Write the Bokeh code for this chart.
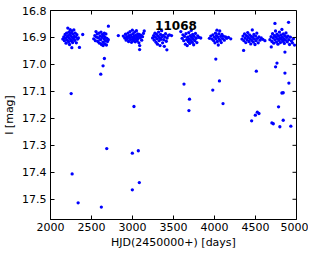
import math
from bokeh.plotting import figure
from bokeh.models import Range1d, FixedTicker, PrintfTickFormatter, Label
from bokeh.embed import file_html
from bokeh.resources import INLINE

star_id = "11068"
x_label = "HJD(2450000+) [days]"
y_label = "I [mag]"
x_ticks = [2000, 2500, 3000, 3500, 4000, 4500, 5000]
y_ticks = [16.8, 16.9, 17.0, 17.1, 17.2, 17.3, 17.4, 17.5]

season1 = [(2150,16.906),(2162,16.898),(2170,16.912),(2178,16.889),(2185,16.903),(2190,16.921),
           (2196,16.884),(2200,16.897),(2205,16.910),(2211,16.865),(2215,16.893),(2220,16.916),
           (2224,16.880),(2228,16.902),(2232,16.926),(2237,16.888),(2240,16.871),(2245,16.908),
           (2249,16.895),(2253,16.882),(2258,16.914),(2262,16.876),(2266,16.900),(2270,16.919),
           (2275,16.887),(2280,16.905),(2285,16.872),(2290,16.896),(2296,16.911),(2302,16.884),
           (2308,16.899),(2315,16.920),(2322,16.890),(2330,16.906),(2340,16.902),(2393,16.889)]
season2 = [(2527,16.905),(2540,16.893),(2548,16.912),(2555,16.878),(2562,16.899),(2570,16.887),
           (2578,16.915),(2585,16.902),(2592,16.884),(2598,16.921),(2604,16.895),(2610,16.908),
           (2616,16.880),(2622,16.926),(2628,16.900),(2633,16.889),(2638,16.917),(2642,16.930),
           (2647,16.893),(2652,16.906),(2656,16.884),(2660,16.923),(2665,16.899),(2670,16.912),
           (2676,16.887),(2682,16.928),(2688,16.903),(2695,16.915),(2705,16.908)]
season3 = [(2827,16.893),(2888,16.895),(2905,16.902),(2915,16.888),(2922,16.910),(2930,16.897),
           (2938,16.905),(2945,16.884),(2952,16.915),(2958,16.893),(2965,16.900),(2970,16.878),
           (2976,16.908),(2982,16.890),(2988,16.918),(2993,16.899),(2998,16.873),(3003,16.906),
           (3008,16.886),(3013,16.912),(3018,16.896),(3023,16.903),(3028,16.880),(3033,16.916),
           (3038,16.892),(3043,16.907),(3048,16.875),(3053,16.899),(3058,16.913),(3063,16.887),
           (3068,16.904),(3073,16.895),(3078,16.920),(3083,16.889),(3088,16.930),(3095,16.901),
           (3103,16.892),(3112,16.910),(3122,16.897),(3133,16.885),(3143,16.876)]
season4 = [(3245,16.902),(3258,16.893),(3266,16.910),(3274,16.884),(3280,16.899),(3287,16.918),
           (3293,16.888),(3299,16.905),(3305,16.925),(3312,16.895),(3318,16.880),(3324,16.912),
           (3330,16.901),(3336,16.930),(3342,16.889),(3348,16.907),(3355,16.875),(3361,16.897),
           (3367,16.920),(3374,16.892),(3381,16.908),(3388,16.933),(3395,16.898),(3403,16.886),
           (3412,16.914),(3422,16.902),(3435,16.893),(3450,16.890),(3476,16.893)]
season5 = [(3589,16.878),(3605,16.903),(3615,16.890),(3625,16.912),(3635,16.896),(3645,16.925),
           (3652,16.886),(3660,16.908),(3667,16.930),(3673,16.899),(3680,16.915),(3686,16.882),
           (3692,16.905),(3698,16.922),(3704,16.893),(3710,16.911),(3716,16.874),(3722,16.900),
           (3728,16.918),(3734,16.889),(3740,16.907),(3746,16.927),(3752,16.896),(3760,16.912),
           (3768,16.885),(3776,16.903),(3785,16.919),(3795,16.894),(3810,16.900),(3832,16.902)]
season6 = [(3938,16.903),(3955,16.895),(3968,16.906),(3980,16.890),(3990,16.912),(3998,16.899),
           (4006,16.920),(4012,16.884),(4018,16.905),(4024,16.893),(4030,16.873),(4035,16.915),
           (4040,16.899),(4046,16.928),(4052,16.887),(4058,16.906),(4064,16.876),(4070,16.911),
           (4076,16.896),(4082,16.919),(4090,16.889),(4098,16.904),(4108,16.895),(4120,16.910),
           (4135,16.898),(4150,16.903),(4170,16.900),(4198,16.905)]
season7 = [(4335,16.906),(4348,16.895),(4358,16.912),(4366,16.887),(4374,16.902),(4382,16.919),
           (4390,16.893),(4398,16.908),(4405,16.882),(4412,16.900),(4420,16.915),(4428,16.890),
           (4435,16.905),(4442,16.924),(4449,16.896),(4455,16.911),(4461,16.872),(4467,16.900),
           (4474,16.917),(4480,16.889),(4487,16.906),(4494,16.926),(4501,16.895),(4508,16.912),
           (4516,16.884),(4524,16.903),(4533,16.920),(4542,16.898),(4555,16.910),(4570,16.902),
           (4590,16.907),(4615,16.912)]
season8 = [(4676,16.908),(4690,16.897),(4700,16.915),(4708,16.886),(4716,16.902),(4723,16.921),
           (4730,16.893),(4737,16.909),(4744,16.876),(4750,16.899),(4756,16.917),(4762,16.888),
           (4768,16.905),(4774,16.925),(4780,16.894),(4786,16.911),(4792,16.880),(4798,16.901),
           (4804,16.919),(4810,16.890),(4816,16.907),(4822,16.870),(4828,16.898),(4834,16.914),
           (4840,16.887),(4846,16.904),(4852,16.922),(4858,16.893),(4865,16.910),(4872,16.883),
           (4880,16.900),(4888,16.916),(4896,16.895),(4905,16.908),(4915,16.926),(4925,16.899),
           (4938,16.913),(4950,16.920),(4962,16.905),(4976,16.928)]
outliers = [(2252,17.108),(2264,17.406),(2337,17.513),(2260,16.938),(2353,16.937),
            (2657,16.978),(2641,17.005),(2613,17.036),(2686,17.312),(2620,17.529),(2706,16.858),
            (3018,17.156),(2998,17.329),(3071,17.320),(3083,17.438),(2998,17.465),(3087,16.945),
            (3419,16.946),
            (3628,17.073),(3695,17.129),(3688,17.171),
            (4016,16.980),(4060,17.061),(3979,17.095),(4104,17.145),
            (4355,16.948),(4510,17.025),(4453,17.209),(4498,17.188),(4522,17.177),(4542,17.182),
            (4692,16.935),(4737,16.848),(4903,16.844),(4859,16.954),(4762,16.995),(4745,17.009),
            (4859,17.032),(4907,17.069),(4822,17.106),(4838,17.105),(4781,17.157),(4700,17.217),
            (4717,17.220),(4797,17.231),(4838,17.207),(4931,17.229)]

points = season1 + season2 + season3 + season4 + season5 + season6 + season7 + season8 + outliers
hjd = [pt[0] for pt in points]
mag = [pt[1] for pt in points]

X0, X1 = 2000, 5000
Y_BOTTOM, Y_TOP = 17.575, 16.8

p = figure(width=308, height=251, output_backend="svg", toolbar_location=None,
           x_range=Range1d(X0, X1), y_range=Range1d(Y_BOTTOM, Y_TOP),
           min_border_left=49, min_border_right=12, min_border_top=10, min_border_bottom=27)
p.background_fill_color = "white"
p.border_fill_color = "white"
p.outline_line_color = "black"
p.outline_line_width = 1
p.grid.visible = False

p.scatter(hjd, mag, size=3.3, fill_color="blue", line_color=None)

# inward ticks on top and right edges (matplotlib classic style)
p.ray(x=x_ticks, y=[Y_TOP] * len(x_ticks), length=4, length_units="screen",
      angle=-math.pi / 2, line_color="black", line_width=1)
p.ray(x=[X1] * len(y_ticks), y=y_ticks, length=4, length_units="screen",
      angle=math.pi, line_color="black", line_width=1)

FONT = "DejaVu Sans"
for ax in (p.xaxis[0], p.yaxis[0]):
    ax.major_tick_in = 4
    ax.major_tick_out = 0
    ax.minor_tick_in = 0
    ax.minor_tick_out = 0
    ax.major_label_text_font = FONT
    ax.major_label_text_font_size = "11px"
    ax.major_label_text_color = "black"
    ax.axis_label_text_font = FONT
    ax.axis_label_text_font_size = "11px"
    ax.axis_label_text_font_style = "normal"
    ax.axis_label_text_color = "black"
    ax.axis_line_color = "black"
    ax.major_tick_line_color = "black"

p.xaxis[0].ticker = FixedTicker(ticks=x_ticks)
p.xaxis[0].formatter = PrintfTickFormatter(format="%d")
p.xaxis[0].axis_label = x_label
p.xaxis[0].major_label_standoff = 3
p.xaxis[0].axis_label_standoff = 2
p.yaxis[0].ticker = FixedTicker(ticks=y_ticks)
p.yaxis[0].formatter = PrintfTickFormatter(format="%.1f")
p.yaxis[0].axis_label = y_label
p.yaxis[0].major_label_standoff = 4
p.yaxis[0].axis_label_standoff = 3

p.add_layout(Label(x=3530, y=16.857, text=star_id, text_align="center", text_baseline="middle",
                   text_font=FONT, text_font_size="12px", text_font_style="bold",
                   text_color="black"))

open("out.html", "w").write(file_html(p, INLINE))
